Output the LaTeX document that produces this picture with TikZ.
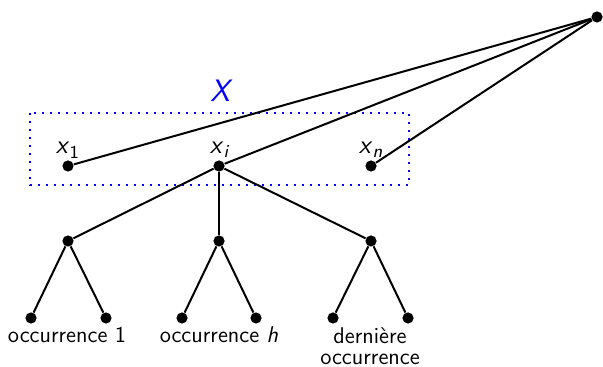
\documentclass[tikz,border=0pt]{standalone}
\usetikzlibrary{positioning}
\begin{document}
\begin{tikzpicture}[x=0.5pt,y=-0.5pt,
  dot/.style={circle,fill=black,inner sep=0pt,minimum size=5.6pt},
  edge/.style={line width=1pt},
  lbl/.style={font=\sffamily\fontsize{11.4}{10.5}\selectfont,inner sep=0pt},
  mlbl/.style={font=\sffamily\fontsize{13}{15}\selectfont,inner sep=1pt,anchor=base}]
\useasboundingbox (0,0) rectangle (603,367);
% box
\draw[blue,line width=1.2pt,dash pattern=on 1.2pt off 2.8pt] (30,113) rectangle (409,185);
\node[text=blue,font=\sffamily\fontsize{15.5}{17}\selectfont\itshape,inner sep=1pt] (X) at (220,91) {X};
% nodes
\node[dot] (r) at (597,17) {};
\node[dot] (x1) at (68,166) {};
\node[dot] (xi) at (219,166) {};
\node[dot] (xn) at (371,166) {};
\node[dot] (a) at (68,241) {};
\node[dot] (b) at (219,241) {};
\node[dot] (c) at (371,241) {};
\node[dot] (a1) at (31,318) {};
\node[dot] (a2) at (106,318) {};
\node[dot] (b1) at (182,318) {};
\node[dot] (b2) at (256,318) {};
\node[dot] (c1) at (333,318) {};
\node[dot] (c2) at (408,318) {};
% labels
\node[mlbl] (lx1) at (68,154) {\textit{x}\textsubscript{1}};
\node[mlbl] (lxi) at (220,154) {\textit{x}\textsubscript{\textit{i}}};
\node[mlbl] (lxn) at (371,154) {\textit{x}\textsubscript{\textit{n}}};
\node[lbl,anchor=base] (o1) at (67,343) {occurrence 1};
\node[lbl,anchor=base] (oh) at (219,343) {occurrence \textit{h}};
\node[lbl,anchor=north,align=center] (od) at (370,327) {dernière\\occurrence};
% edges
\draw[edge] (r) -- (x1);
\draw[edge] (r) -- (xi);
\draw[edge] (r) -- (xn);
\draw[edge] (xi) -- (a);
\draw[edge] (xi) -- (b);
\draw[edge] (xi) -- (c);
\draw[edge] (a) -- (a1);
\draw[edge] (a) -- (a2);
\draw[edge] (b) -- (b1);
\draw[edge] (b) -- (b2);
\draw[edge] (c) -- (c1);
\draw[edge] (c) -- (c2);
\end{tikzpicture}
\end{document}
